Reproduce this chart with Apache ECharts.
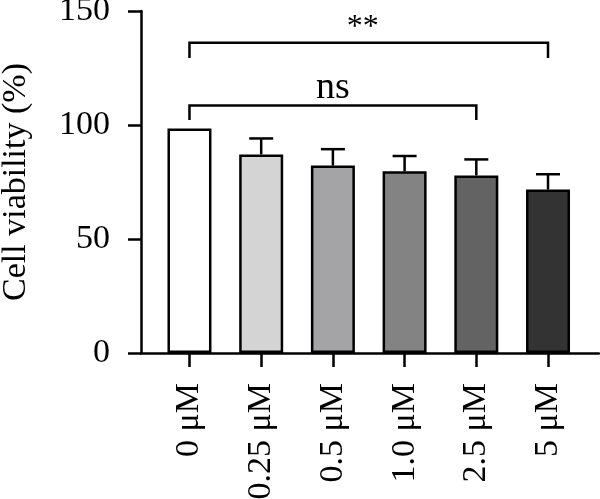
<!DOCTYPE html>
<html>
<head>
<meta charset="utf-8">
<script src="https://cdn.jsdelivr.net/npm/echarts@6/dist/echarts.min.js"></script>
<style>
  html, body { margin: 0; padding: 0; background: #fff; }
  #chart { width: 600px; height: 499px; }
</style>
</head>
<body>
<div id="chart"></div>
<script>
// data
const categories = ['0 μM', '0.25 μM', '0.5 μM', '1.0 μM', '2.5 μM', '5 μM']
const viability = [98.5, 87.1, 82.2, 79.7, 77.9, 71.7]
const sd = [0, 7.0, 7.2, 6.7, 7.0, 6.7]
const barColors = ['#ffffff', '#d4d4d4', '#a4a4a7', '#838383', '#636363', '#333333']
const yTicks = [0, 50, 100, 150]
// [from index, to index, bracket height, leg bottom, label]
const brackets = [
  [0, 5, 136.1, 129.4, '**'],
  [0, 4, 108.6, 102.2, 'ns']
]

const font = 'Liberation Serif'

const barData = viability.map((v, i) => ({
  value: [i, v],
  itemStyle: { color: barColors[i] }
}))
const errData = viability.map((v, i) => [i, v, v + sd[i]])

const chart = echarts.init(document.getElementById('chart'))

const option = {
  backgroundColor: '#fff',
  animation: false,
  grid: { left: 141, right: 1, top: 11, bottom: 146, outerBoundsMode: 'none', containLabel: false },
  xAxis: {
    type: 'value',
    min: -0.676,
    max: 5.711,
    splitLine: { show: false },
    axisLine: { onZero: false, lineStyle: { color: '#000', width: 2.5 } },
    axisTick: {
      show: true,
      length: 14,
      customValues: [0, 1, 2, 3, 4, 5],
      lineStyle: { color: '#000', width: 2.5 }
    },
    axisLabel: {
      customValues: [0, 1, 2, 3, 4, 5],
      rotate: 90,
      margin: 30,
      fontFamily: font,
      fontSize: 34,
      color: '#000',
      formatter: v => categories[Math.round(v)]
    }
  },
  yAxis: {
    type: 'value',
    min: 0,
    max: 150,
    interval: 50,
    name: 'Cell viability (%)',
    nameLocation: 'middle',
    nameGap: 108,
    nameTextStyle: { fontFamily: font, fontSize: 34, color: '#000' },
    splitLine: { show: false },
    axisLine: { show: true, onZero: false, lineStyle: { color: '#000', width: 2.5 } },
    axisTick: { show: true, length: 13, lineStyle: { color: '#000', width: 2.5 } },
    axisLabel: {
      margin: 31,
      fontFamily: font,
      fontSize: 34,
      color: '#000',
      customValues: yTicks
    }
  },
  series: [
    {
      type: 'custom',
      name: 'sd',
      z: 1,
      data: errData,
      renderItem: (params, api) => {
        const x = api.value(0)
        const top = api.coord([x, api.value(2)])
        const base = api.coord([x, api.value(1)])
        if (api.value(2) <= api.value(1)) return null
        const style = { stroke: '#000', lineWidth: 2.5 }
        return {
          type: 'group',
          children: [
            { type: 'line', shape: { x1: top[0], y1: top[1], x2: base[0], y2: base[1] }, style },
            { type: 'line', shape: { x1: top[0] - 12, y1: top[1], x2: top[0] + 12, y2: top[1] }, style }
          ]
        }
      }
    },
    {
      type: 'bar',
      z: 2,
      barWidth: 44,
      data: barData,
      itemStyle: { borderColor: '#000', borderWidth: 2.5 }
    },
    {
      type: 'custom',
      name: 'brackets',
      z: 3,
      data: brackets,
      renderItem: (params, api) => {
        const b = brackets[params.dataIndex]
        const l = api.coord([b[0], b[2]])
        const r = api.coord([b[1], b[2]])
        const legL = api.coord([b[0], b[3]])
        const legR = api.coord([b[1], b[3]])
        const style = { stroke: '#000', lineWidth: 2.5, fill: null }
        const isStar = b[4] === '**'
        return {
          type: 'group',
          children: [
            {
              type: 'polyline',
              shape: { points: [legL, l, r, legR] },
              style
            },
            {
              type: 'text',
              x: (l[0] + r[0]) / 2 - (isStar ? 6 : 0),
              y: l[1] + (isStar ? 1 : 2),
              style: {
                text: b[4],
                fontFamily: font,
                fontSize: isStar ? 32 : 38,
                fill: '#000',
                textAlign: 'center',
                textVerticalAlign: 'bottom'
              }
            }
          ]
        }
      }
    }
  ]
}

chart.setOption(option)
</script>
</body>
</html>
